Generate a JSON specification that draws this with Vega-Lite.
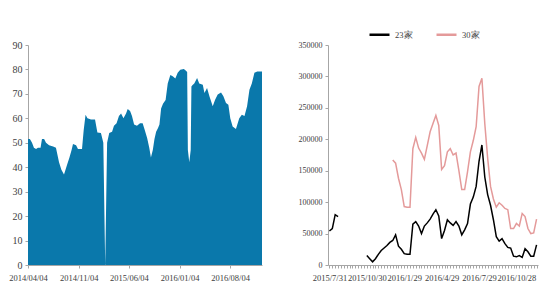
{
  "$schema": "https://vega.github.io/schema/vega-lite/v6.json",
  "background": "white",
  "padding": {"left": 8, "top": 23, "right": 5, "bottom": 5},
  "bounds": "flush",
  "spacing": 66,
  "config": {
    "view": {"stroke": null},
    "axis": {"domainColor": "#a6a6a6", "tickColor": "#a6a6a6", "labelColor": "#404040", "grid": false, "tickSize": 3, "title": null}
  },
  "hconcat": [
    {
      "width": 234,
      "height": 220,
      "data": {"values": [
        {"d":"2014-04-04","v":51.5},{"d":"2014-04-12","v":51.5},{"d":"2014-04-21","v":50},{"d":"2014-04-29","v":48},
        {"d":"2014-05-08","v":47.5},{"d":"2014-05-16","v":48},{"d":"2014-05-27","v":48},{"d":"2014-06-02","v":51.5},
        {"d":"2014-06-11","v":51.5},{"d":"2014-06-19","v":50},{"d":"2014-07-02","v":49},{"d":"2014-07-19","v":48.5},
        {"d":"2014-07-31","v":48},{"d":"2014-08-13","v":42},{"d":"2014-08-23","v":39},{"d":"2014-09-03","v":37},
        {"d":"2014-09-16","v":41},{"d":"2014-09-26","v":44},{"d":"2014-10-05","v":47},{"d":"2014-10-11","v":49.5},
        {"d":"2014-10-24","v":49},{"d":"2014-11-01","v":47.5},{"d":"2014-11-18","v":47.5},{"d":"2014-11-25","v":55},
        {"d":"2014-12-03","v":61.5},{"d":"2014-12-11","v":60},{"d":"2014-12-26","v":59.5},{"d":"2015-01-12","v":59.5},
        {"d":"2015-01-22","v":54.2},{"d":"2015-02-06","v":54},{"d":"2015-02-16","v":50},{"d":"2015-02-24","v":0},
        {"d":"2015-03-04","v":50},{"d":"2015-03-13","v":54},{"d":"2015-03-25","v":54.5},{"d":"2015-04-02","v":57},
        {"d":"2015-04-13","v":58},{"d":"2015-04-23","v":61},{"d":"2015-05-02","v":62},{"d":"2015-05-12","v":60},
        {"d":"2015-05-23","v":62},{"d":"2015-05-30","v":63.8},{"d":"2015-06-09","v":63},{"d":"2015-06-17","v":61},
        {"d":"2015-06-26","v":57.5},{"d":"2015-07-08","v":57},{"d":"2015-07-21","v":58},{"d":"2015-08-01","v":58},
        {"d":"2015-08-09","v":55.5},{"d":"2015-08-20","v":52},{"d":"2015-08-29","v":48},{"d":"2015-09-05","v":44},
        {"d":"2015-09-13","v":47},{"d":"2015-09-20","v":51.5},{"d":"2015-09-27","v":54.5},{"d":"2015-10-05","v":56},
        {"d":"2015-10-11","v":57.5},{"d":"2015-10-18","v":64},{"d":"2015-10-26","v":66},{"d":"2015-11-06","v":67.5},
        {"d":"2015-11-15","v":74.3},{"d":"2015-11-26","v":77.7},{"d":"2015-12-06","v":77.2},{"d":"2015-12-17","v":76.3},
        {"d":"2015-12-27","v":78.6},{"d":"2016-01-07","v":79.9},{"d":"2016-01-22","v":80.2},{"d":"2016-01-31","v":79.5},
        {"d":"2016-02-05","v":79},{"d":"2016-02-08","v":47},{"d":"2016-02-14","v":42},{"d":"2016-02-20","v":47},
        {"d":"2016-02-23","v":73},{"d":"2016-02-27","v":73.5},{"d":"2016-03-06","v":74.3},{"d":"2016-03-18","v":76.5},
        {"d":"2016-03-27","v":74.3},{"d":"2016-04-11","v":73.7},{"d":"2016-04-18","v":70.4},{"d":"2016-04-29","v":72.4},
        {"d":"2016-05-09","v":69},{"d":"2016-05-23","v":64.9},{"d":"2016-06-02","v":67.6},{"d":"2016-06-13","v":69.7},
        {"d":"2016-06-27","v":70.6},{"d":"2016-07-07","v":69},{"d":"2016-07-18","v":66.3},{"d":"2016-07-28","v":65.6},
        {"d":"2016-08-05","v":60},{"d":"2016-08-15","v":56.7},{"d":"2016-08-29","v":55.6},{"d":"2016-09-12","v":60},
        {"d":"2016-09-23","v":61.5},{"d":"2016-10-04","v":61},{"d":"2016-10-15","v":64.9},{"d":"2016-10-25","v":71.7},
        {"d":"2016-11-04","v":74.3},{"d":"2016-11-15","v":78.6},{"d":"2016-11-27","v":79.2},{"d":"2016-12-17","v":79.2}
      ]},
      "mark": {"type": "area", "color": "#0a78ab", "interpolate": "linear"},
      "encoding": {
        "x": {
          "field": "d", "type": "temporal",
          "scale": {"type": "utc", "domain": [{"year":2014,"month":4,"date":4,"utc":true},{"year":2016,"month":12,"date":17,"utc":true}], "nice": false},
          "axis": {
            "values": [
              {"year":2014,"month":4,"date":4,"utc":true},
              {"year":2014,"month":11,"date":4,"utc":true},
              {"year":2015,"month":6,"date":4,"utc":true},
              {"year":2016,"month":1,"date":4,"utc":true},
              {"year":2016,"month":8,"date":4,"utc":true}
            ],
            "labelExpr": "utcFormat(datum.value, '%Y/%m/%d')",
            "labelFont": "Liberation Serif", "labelFontSize": 8.5, "labelPadding": 5,
            "labelOverlap": false, "labelBound": false, "labelFlush": false
          }
        },
        "y": {
          "field": "v", "type": "quantitative",
          "scale": {"domain": [0, 90], "nice": false},
          "axis": {"values": [0,10,20,30,40,50,60,70,80,90], "labelFont": "Liberation Sans Narrow", "labelFontSize": 10, "labelPadding": 3}
        }
      }
    },
    {
      "width": 210,
      "height": 220,
      "data": {"values": [
        {"w":"2015/7/31","23家":54000,"30家":null},{"w":"2015/8/7","23家":58000,"30家":null},
        {"w":"2015/8/14","23家":80000,"30家":null},{"w":"2015/8/21","23家":77000,"30家":null},
        {"w":"2015/8/28","23家":null,"30家":null},{"w":"2015/9/4","23家":null,"30家":null},
        {"w":"2015/9/11","23家":null,"30家":null},{"w":"2015/9/18","23家":null,"30家":null},
        {"w":"2015/9/25","23家":null,"30家":null},{"w":"2015/10/2","23家":null,"30家":null},
        {"w":"2015/10/9","23家":null,"30家":null},{"w":"2015/10/16","23家":null,"30家":null},
        {"w":"2015/10/23","23家":null,"30家":null},{"w":"2015/10/30","23家":15000,"30家":null},
        {"w":"2015/11/6","23家":10000,"30家":null},{"w":"2015/11/13","23家":5000,"30家":null},
        {"w":"2015/11/20","23家":10000,"30家":null},{"w":"2015/11/27","23家":17000,"30家":null},
        {"w":"2015/12/4","23家":23000,"30家":null},{"w":"2015/12/11","23家":27000,"30家":null},
        {"w":"2015/12/18","23家":31000,"30家":null},{"w":"2015/12/25","23家":36000,"30家":null},
        {"w":"2016/1/1","23家":39000,"30家":167000},{"w":"2016/1/8","23家":48000,"30家":162000},
        {"w":"2016/1/15","23家":30000,"30家":138000},{"w":"2016/1/22","23家":25000,"30家":120000},
        {"w":"2016/1/29","23家":18000,"30家":93000},{"w":"2016/2/5","23家":17000,"30家":92000},
        {"w":"2016/2/12","23家":17000,"30家":92000},{"w":"2016/2/19","23家":65000,"30家":185000},
        {"w":"2016/2/26","23家":69000,"30家":203000},{"w":"2016/3/4","23家":62000,"30家":186000},
        {"w":"2016/3/11","23家":50000,"30家":178000},{"w":"2016/3/18","23家":62000,"30家":168000},
        {"w":"2016/3/25","23家":67000,"30家":190000},{"w":"2016/4/1","23家":73000,"30家":212000},
        {"w":"2016/4/8","23家":81000,"30家":225000},{"w":"2016/4/15","23家":88000,"30家":238000},
        {"w":"2016/4/22","23家":78000,"30家":222000},{"w":"2016/4/29","23家":42000,"30家":152000},
        {"w":"2016/5/6","23家":55000,"30家":158000},{"w":"2016/5/13","23家":72000,"30家":180000},
        {"w":"2016/5/20","23家":67000,"30家":185000},{"w":"2016/5/27","23家":63000,"30家":175000},
        {"w":"2016/6/3","23家":69000,"30家":178000},{"w":"2016/6/10","23家":62000,"30家":150000},
        {"w":"2016/6/17","23家":48000,"30家":120000},{"w":"2016/6/24","23家":56000,"30家":120000},
        {"w":"2016/7/1","23家":66000,"30家":148000},{"w":"2016/7/8","23家":97000,"30家":180000},
        {"w":"2016/7/15","23家":108000,"30家":198000},{"w":"2016/7/22","23家":125000,"30家":220000},
        {"w":"2016/7/29","23家":165000,"30家":284000},{"w":"2016/8/5","23家":191000,"30家":297000},
        {"w":"2016/8/12","23家":140000,"30家":225000},{"w":"2016/8/19","23家":112000,"30家":170000},
        {"w":"2016/8/26","23家":95000,"30家":125000},{"w":"2016/9/2","23家":72000,"30家":105000},
        {"w":"2016/9/9","23家":45000,"30家":92000},{"w":"2016/9/16","23家":38000,"30家":99000},
        {"w":"2016/9/23","23家":42000,"30家":95000},{"w":"2016/9/30","23家":34000,"30家":90000},
        {"w":"2016/10/7","23家":28000,"30家":88000},{"w":"2016/10/14","23家":27000,"30家":58000},
        {"w":"2016/10/21","23家":14000,"30家":58000},{"w":"2016/10/28","23家":13000,"30家":66000},
        {"w":"2016/11/4","23家":15000,"30家":62000},{"w":"2016/11/11","23家":12000,"30家":82000},
        {"w":"2016/11/18","23家":26000,"30家":77000},{"w":"2016/11/25","23家":21000,"30家":58000},
        {"w":"2016/12/2","23家":14000,"30家":50000},{"w":"2016/12/9","23家":14000,"30家":51000},
        {"w":"2016/12/16","23家":32000,"30家":73000}
      ]},
      "transform": [{"fold": ["23家", "30家"], "as": ["s", "v"]}],
      "mark": {"type": "line", "strokeWidth": 1.5, "invalid": "break-paths-show-domains"},
      "encoding": {
        "x": {
          "field": "w", "type": "ordinal", "sort": null,
          "scale": {"type": "point", "padding": 0.5},
          "axis": {
            "labelExpr": "indexof(['2015/7/31','2015/10/30','2016/1/29','2016/4/29','2016/7/29','2016/10/28'], datum.value) >= 0 ? datum.value : ''",
            "labelAngle": 0, "labelFont": "Liberation Serif", "labelFontSize": 8.5, "labelPadding": 5,
            "labelOverlap": false, "labelBound": false, "labelFlush": false
          }
        },
        "y": {
          "field": "v", "type": "quantitative",
          "scale": {"domain": [0, 350000], "nice": false},
          "axis": {"values": [0,50000,100000,150000,200000,250000,300000,350000], "format": "d", "labelFont": "Liberation Serif", "labelFontSize": 8, "labelPadding": 3}
        },
        "color": {
          "field": "s", "type": "nominal",
          "scale": {"domain": ["23家", "30家"], "range": ["#000000", "#e49a9a"]},
          "legend": {
            "title": null, "orient": "none", "legendX": 340, "legendY": -22, "direction": "horizontal",
            "symbolType": "stroke", "symbolSize": 400, "symbolStrokeWidth": 2.5,
            "labelFont": "Liberation Serif", "labelFontSize": 8.5, "labelColor": "#404040",
            "labelOffset": 4, "columnPadding": 18
          }
        }
      }
    }
  ]
}
